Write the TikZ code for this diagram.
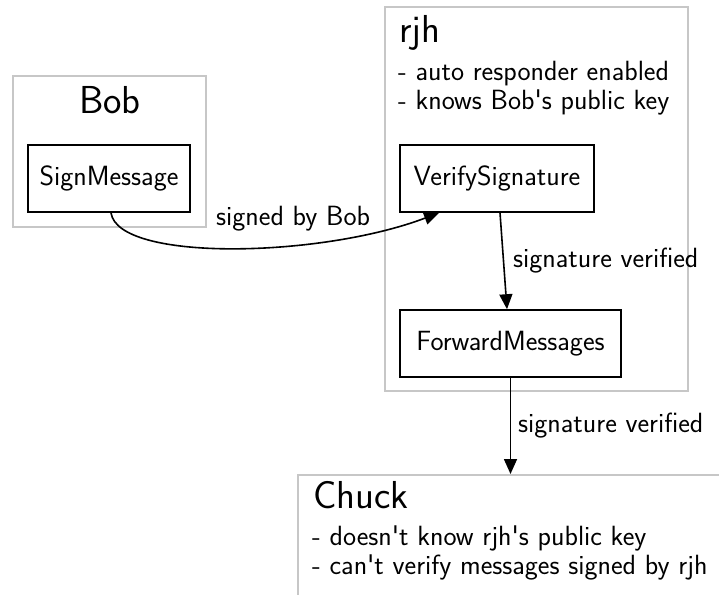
\documentclass[tikz,border=0pt]{standalone}
\usetikzlibrary{arrows.meta}
\renewcommand{\familydefault}{\sfdefault}
\begin{document}
\begin{tikzpicture}[x=1pt,y=-1pt,
  cluster/.style={draw=black!22, line width=1.6pt},
  proc/.style={draw, line width=1.6pt, minimum height=67pt, inner sep=0pt,
    font=\fontsize{27.8}{32}\selectfont},
  body/.style={inner sep=0pt, font=\fontsize{27.8}{32}\selectfont},
  title/.style={inner sep=0pt, font=\fontsize{39}{45}\selectfont},
  flow/.style={line width=1.6pt, -{Triangle[length=15pt,width=13pt]}}
]
\useasboundingbox (0,0) rectangle (719,594);

% Bob's cluster
\node[cluster, minimum width=193pt, minimum height=151pt, inner sep=0pt] (bobcl) at (109.5,151.5) {};
\node[title, anchor=base] (bobt) at (110,113) {Bob};
\node[proc, minimum width=162pt] (sign) at (109,178.5) {SignMessage};

% rjh's cluster
\node[cluster, minimum width=303pt, minimum height=384pt, inner sep=0pt] (rjhcl) at (536.5,199) {};
\node[title, anchor=base west] (rjht) at (399,43) {rjh};
\node[body, anchor=base west] (rjh1) at (398,80) {- auto responder enabled};
\node[body, anchor=base west] (rjh2) at (398,109) {- knows Bob\textquotesingle s public key};
\node[proc, minimum width=194pt] (verify) at (497,178.5) {VerifySignature};
\node[proc, minimum width=221pt] (forward) at (510.5,343.5) {ForwardMessages};

% Chuck, running off the page
\begin{scope}
\clip (0,0) rectangle (719,594);
\node[cluster, minimum width=440pt, minimum height=140pt, inner sep=0pt, anchor=north west] (chuck) at (297,474) {};
\end{scope}
\node[title, anchor=base west] (chuckt) at (313,508) {Chuck};
\node[body, anchor=base west] (chuck1) at (312,545) {- doesn\textquotesingle t know rjh\textquotesingle s public key};
\node[body, anchor=base west] (chuck2) at (312,574) {- can\textquotesingle t verify messages signed by rjh};

% connectors
\coordinate (v0) at ([xshift=-58pt]verify.south);
\draw[flow] ([xshift=2pt]sign.south) .. controls (118,262) and (320,258) .. (v0);
\node[body, anchor=base west] (l1) at (216,225) {signed by Bob};

\draw[flow] ([xshift=3pt]verify.south) -- ([xshift=-3.5pt]forward.north);
\node[body, anchor=base west] (l2) at (513,267) {signature verified};

\draw[flow] (forward.south) -- (forward.south |- chuck.north);
\node[body, anchor=base west] (l3) at (518,432) {signature verified};
\end{tikzpicture}
\end{document}
